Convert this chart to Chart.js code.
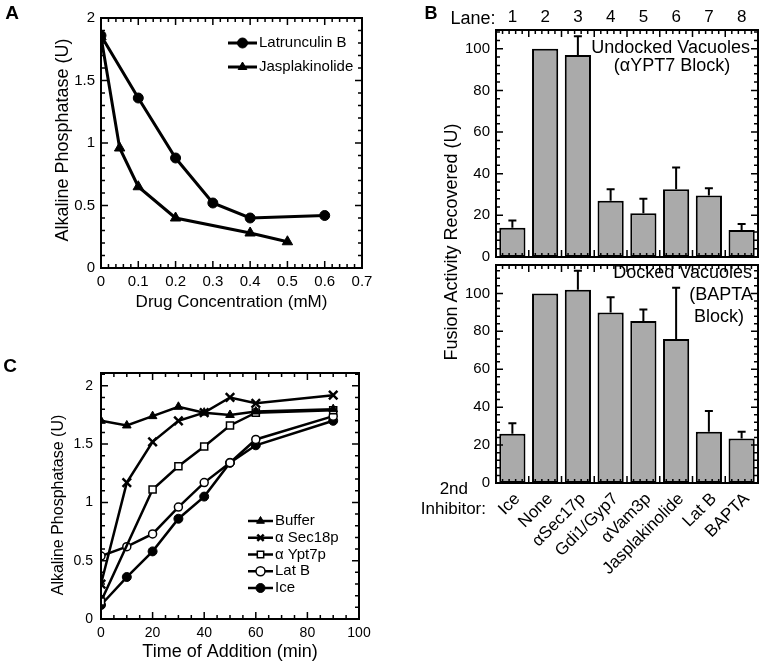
<!DOCTYPE html>
<html>
<head>
<meta charset="utf-8">
<script src="https://cdn.jsdelivr.net/npm/chart.js@4.4.1/dist/chart.umd.min.js"></script>
<style>
body { margin: 0; background: #fff; width: 764px; height: 661px; position: relative; overflow: hidden;
       font-family: "Liberation Sans", Arial, Helvetica, sans-serif; color: #000; }
canvas { position: absolute; }
.t { position: absolute; white-space: nowrap; line-height: 1; }
.c { transform: translate(-50%, -50%); }
.r { transform: translate(-100%, -50%); }
.v { transform: translate(-50%, -50%) rotate(-90deg); }
.bold { font-weight: bold; }
</style>
</head>
<body>
<canvas id="chartA" width="380" height="320" style="left:0;top:0"></canvas>
<canvas id="chartC" width="380" height="341" style="left:0;top:320px"></canvas>
<canvas id="chartB1" width="384" height="275" style="left:380px;top:0"></canvas>
<canvas id="chartB2" width="384" height="411" style="left:380px;top:250px"></canvas>

<div class="t c bold" style="left:12px;top:12px;font-size:19px">A</div>
<div class="t c bold" style="left:431px;top:13px;font-size:18px">B</div>
<div class="t c bold" style="left:10px;top:365px;font-size:19px">C</div>
<div class="t c" style="left:473px;top:18px;font-size:18px">Lane:</div>

<div class="t v" style="left:62px;top:140px;font-size:18px">Alkaline Phosphatase (U)</div>
<div class="t v" style="left:58px;top:505px;font-size:16px">Alkaline Phosphatase (U)</div>
<div class="t v" style="left:451px;top:242px;font-size:18px">Fusion Activity Recovered (U)</div>

<div class="t r" style="left:750px;top:47px;font-size:18px">Undocked Vacuoles</div>
<div class="t c" style="left:672px;top:65px;font-size:18px">(αYPT7 Block)</div>
<div class="t r" style="left:752px;top:272px;font-size:18px">Docked Vacuoles</div>
<div class="t r" style="left:753px;top:294px;font-size:18px">(BAPTA</div>
<div class="t c" style="left:719px;top:316px;font-size:18px">Block)</div>
<div class="t r" style="left:468px;top:488px;font-size:17px">2nd</div>
<div class="t r" style="left:486px;top:508px;font-size:17px">Inhibitor:</div>

<script>
const FONT = '"Liberation Sans", Arial, Helvetica, sans-serif';

// Panel A: drug titration
const drugLatB = [0, 0.1, 0.2, 0.3, 0.4, 0.6];
const apLatB = [1.86, 1.36, 0.88, 0.52, 0.40, 0.42];
const drugJasp = [0, 0.05, 0.1, 0.2, 0.4, 0.5];
const apJasp = [1.85, 0.96, 0.65, 0.40, 0.28, 0.21];
const drugTicks = [0, 0.1, 0.2, 0.3, 0.4, 0.5, 0.6, 0.7];
const apTicks = [0, 0.5, 1, 1.5, 2];

// Panel C: time of addition
const timeAll = [0, 10, 20, 30, 40, 50, 60, 90];
const timeYpt7 = [0, 20, 30, 40, 50, 60, 90];
const apBuffer = [1.70, 1.66, 1.74, 1.82, 1.77, 1.75, 1.78, 1.80];
const apSec18 = [0.30, 1.17, 1.52, 1.70, 1.77, 1.90, 1.85, 1.92];
const apYpt7 = [0.15, 1.11, 1.31, 1.48, 1.66, 1.77, 1.79];
const apLatBTime = [0.54, 0.62, 0.73, 0.96, 1.17, 1.34, 1.54, 1.74];
const apIce = [0.12, 0.36, 0.58, 0.86, 1.05, 1.34, 1.49, 1.70];
const timeTicks = [0, 20, 40, 60, 80, 100];

// Panel B: fusion recovered
const lanes = ['1', '2', '3', '4', '5', '6', '7', '8'];
const inhibitors = ['Ice', 'None', 'αSec17p', 'Gdi1/Gyp7', 'αVam3p', 'Jasplakinolide', 'Lat B', 'BAPTA'];
const undocked = [14, 100, 97, 27, 21, 32.5, 29.5, 13];
const undockedErr = [3.5, 0, 9, 5.5, 7, 10.5, 3.5, 2.8];
const docked = [26, 100, 102, 90, 85.5, 76, 27, 23.5];
const dockedErr = [5.5, 0, 10, 8, 6, 27, 11, 3.5];
const pctTicks = [0, 20, 40, 60, 80, 100];

Chart.defaults.font.family = FONT;
Chart.defaults.color = '#000';

// box around the plot with inward major/minor ticks on all four sides
const boxTicks = {
    id: 'boxTicks',
    afterDatasetsDraw(chart, args, o) {
        const { ctx, chartArea: a } = chart;
        ctx.save();
        ctx.strokeStyle = '#000';
        ctx.lineWidth = 1.5;
        const list = (scale, t) => {
            const out = [];
            if (t.sub) {
                const n = scale.ticks.length * t.sub;
                for (let i = 0; i <= n; i++) out.push([a.left + (a.right - a.left) * i / n, i % t.sub === 0]);
            } else {
                const n = Math.round((scale.max - scale.min) / t.minor);
                for (let i = 0; i <= n; i++) {
                    const v = scale.min + i * t.minor;
                    if (v > scale.max + 1e-9) break;
                    const r = v / t.major;
                    out.push([scale.getPixelForValue(v), Math.abs(r - Math.round(r)) < 1e-6]);
                }
            }
            return out;
        };
        ctx.beginPath();
        list(chart.scales.x, o.x).forEach(([p, major]) => {
            const len = major ? 7 : 4;
            ctx.moveTo(p, a.bottom); ctx.lineTo(p, a.bottom - len);
            ctx.moveTo(p, a.top); ctx.lineTo(p, a.top + len);
        });
        list(chart.scales.y, o.y).forEach(([p, major]) => {
            const len = major ? 7 : 4;
            ctx.moveTo(a.left, p); ctx.lineTo(a.left + len, p);
            ctx.moveTo(a.right, p); ctx.lineTo(a.right - len, p);
        });
        ctx.stroke();
        ctx.lineWidth = 2;
        ctx.strokeRect(a.left, a.top, a.right - a.left, a.bottom - a.top);
        ctx.restore();
    }
};

// upward error whiskers on bars
const errorBars = {
    id: 'errorBars',
    afterDatasetsDraw(chart) {
        const { ctx } = chart;
        const y = chart.scales.y;
        chart.data.datasets.forEach((ds, di) => {
            if (!ds.errorPlus) return;
            const meta = chart.getDatasetMeta(di);
            ctx.save();
            ctx.strokeStyle = '#000';
            ctx.lineWidth = 2;
            meta.data.forEach((bar, i) => {
                const e = ds.errorPlus[i];
                if (!e) return;
                const top = y.getPixelForValue(ds.data[i] + e);
                ctx.beginPath();
                ctx.moveTo(bar.x, bar.y);
                ctx.lineTo(bar.x, top);
                ctx.moveTo(bar.x - 4, top);
                ctx.lineTo(bar.x + 4, top);
                ctx.stroke();
            });
            ctx.restore();
        });
    }
};

// legend drawn inside the plot: line sample with marker, then label
const insetLegend = {
    id: 'insetLegend',
    afterDraw(chart, args, o) {
        if (!o.show) return;
        const { ctx } = chart;
        ctx.save();
        ctx.font = o.size + 'px ' + FONT;
        ctx.textBaseline = 'middle';
        chart.data.datasets.forEach((ds, i) => {
            const y = o.y + i * o.rowH;
            ctx.strokeStyle = '#000';
            ctx.lineWidth = ds.borderWidth;
            ctx.beginPath();
            ctx.moveTo(o.x, y);
            ctx.lineTo(o.x + o.lineLen, y);
            ctx.stroke();
            ctx.fillStyle = ds.pointBackgroundColor;
            ctx.lineWidth = ds.pointBorderWidth;
            Chart.helpers.drawPoint(ctx, {
                pointStyle: ds.pointStyle, radius: o.radius, rotation: 0, borderWidth: ds.pointBorderWidth
            }, o.x + o.lineLen / 2, y);
            ctx.fillStyle = '#000';
            ctx.fillText(ds.label, o.x + o.lineLen + 2, y);
        });
        ctx.restore();
    }
};

const toPoints = (xs, ys) => xs.map((x, i) => ({ x: x, y: ys[i] }));

function lineSet(label, xs, ys, style, radius, fill, pbw, bw) {
    return {
        label: label,
        data: toPoints(xs, ys),
        borderColor: '#000',
        borderWidth: bw,
        pointStyle: style,
        pointRadius: radius,
        pointBackgroundColor: fill,
        pointBorderColor: '#000',
        pointBorderWidth: pbw,
        tension: 0,
        fill: false
    };
}

function linearAxis(min, max, tickVals, size, fitKey, fitVal, padding, extra) {
    return Object.assign({
        type: 'linear',
        bounds: 'data',
        min: min,
        max: max,
        grid: { display: false, drawTicks: false },
        border: { display: false },
        afterBuildTicks: s => { s.ticks = tickVals.map(v => ({ value: v })); },
        afterFit: s => { s[fitKey] = fitVal; },
        ticks: { padding: padding, color: '#000', font: { size: size }, callback: v => String(v) }
    }, extra || {});
}

// Panel A
new Chart(document.getElementById('chartA'), {
    type: 'line',
    data: {
        datasets: [
            lineSet('Latrunculin B', drugLatB, apLatB, 'circle', 5, '#000', 1, 3),
            lineSet('Jasplakinolide', drugJasp, apJasp, 'triangle', 6, '#000', 1, 3)
        ]
    },
    options: {
        responsive: false,
        animation: false,
        layout: { padding: { left: 0, top: 18, right: 18, bottom: 0 } },
        scales: {
            x: linearAxis(0, 0.7, drugTicks, 15, 'height', 52, 5, {
                title: { display: true, text: 'Drug Concentration (mM)', color: '#000',
                         font: { size: 17, lineHeight: 1 }, padding: { top: 0, bottom: 9 } }
            }),
            y: linearAxis(0, 2, apTicks, 15, 'width', 101, 6)
        },
        plugins: {
            legend: { display: false },
            tooltip: { enabled: false },
            boxTicks: { x: { major: 0.1, minor: 0.02 }, y: { major: 0.5, minor: 0.1 } },
            insetLegend: { show: true, x: 228, y: 43, rowH: 24, lineLen: 29, radius: 5, size: 15 }
        }
    },
    plugins: [boxTicks, insetLegend]
});

// Panel C
new Chart(document.getElementById('chartC'), {
    type: 'line',
    data: {
        datasets: [
            lineSet('Buffer', timeAll, apBuffer, 'triangle', 5, '#000', 1, 2.5),
            lineSet('α Sec18p', timeAll, apSec18, 'crossRot', 6, '#000', 2.5, 2.5),
            lineSet('α Ypt7p', timeYpt7, apYpt7, 'rect', 5, '#fff', 1.5, 2.5),
            lineSet('Lat B', timeAll, apLatBTime, 'circle', 4, '#fff', 1.5, 2.5),
            lineSet('Ice', timeAll, apIce, 'circle', 4.5, '#000', 1, 2.5)
        ]
    },
    options: {
        responsive: false,
        animation: false,
        layout: { padding: { left: 0, top: 53, right: 21, bottom: 0 } },
        scales: {
            x: linearAxis(0, 100, timeTicks, 14, 'height', 42, 6, {
                title: { display: true, text: 'Time of Addition (min)', color: '#000',
                         font: { size: 18, lineHeight: 1 }, padding: { top: 0, bottom: 0 } }
            }),
            y: linearAxis(0, 2.11, apTicks, 14, 'width', 101, 8)
        },
        plugins: {
            legend: { display: false },
            tooltip: { enabled: false },
            boxTicks: { x: { major: 20, minor: 5 }, y: { major: 0.5, minor: 0.1 } },
            insetLegend: { show: true, x: 248, y: 201, rowH: 16.75, lineLen: 25, radius: 4.5, size: 15 }
        }
    },
    plugins: [boxTicks, insetLegend]
});

function barChart(id, labels, values, errs, yMax, pad, xHeight, xPos, xTicks) {
    return new Chart(document.getElementById(id), {
        type: 'bar',
        data: {
            labels: labels,
            datasets: [{
                data: values,
                errorPlus: errs,
                backgroundColor: '#aaaaaa',
                borderColor: '#000',
                borderWidth: 2,
                borderSkipped: false,
                barPercentage: 0.8,
                categoryPercentage: 1
            }]
        },
        options: {
            responsive: false,
            animation: false,
            layout: { padding: pad },
            scales: {
                x: {
                    position: xPos,
                    grid: { display: false, drawTicks: false },
                    border: { display: false },
                    afterFit: s => { s.height = xHeight; },
                    ticks: Object.assign({ color: '#000', autoSkip: false }, xTicks)
                },
                y: linearAxis(0, yMax, pctTicks, 15, 'width', 116, 6)
            },
            plugins: {
                legend: { display: false },
                tooltip: { enabled: false },
                boxTicks: { x: { sub: 5 }, y: { major: 20, minor: 4 } }
            }
        },
        plugins: [errorBars, boxTicks]
    });
}

barChart('chartB1', lanes, undocked, undockedErr, 109,
    { left: 0, top: 0, right: 6, bottom: 18 }, 30, 'top',
    { padding: 2, maxRotation: 0, font: { size: 17 } });

barChart('chartB2', inhibitors, docked, dockedErr, 115,
    { left: 0, top: 6, right: 6, bottom: 0 }, 178, 'bottom',
    { padding: 6, minRotation: 45, maxRotation: 45, labelOffset: 5, font: { size: 17 } });
</script>
</body>
</html>
